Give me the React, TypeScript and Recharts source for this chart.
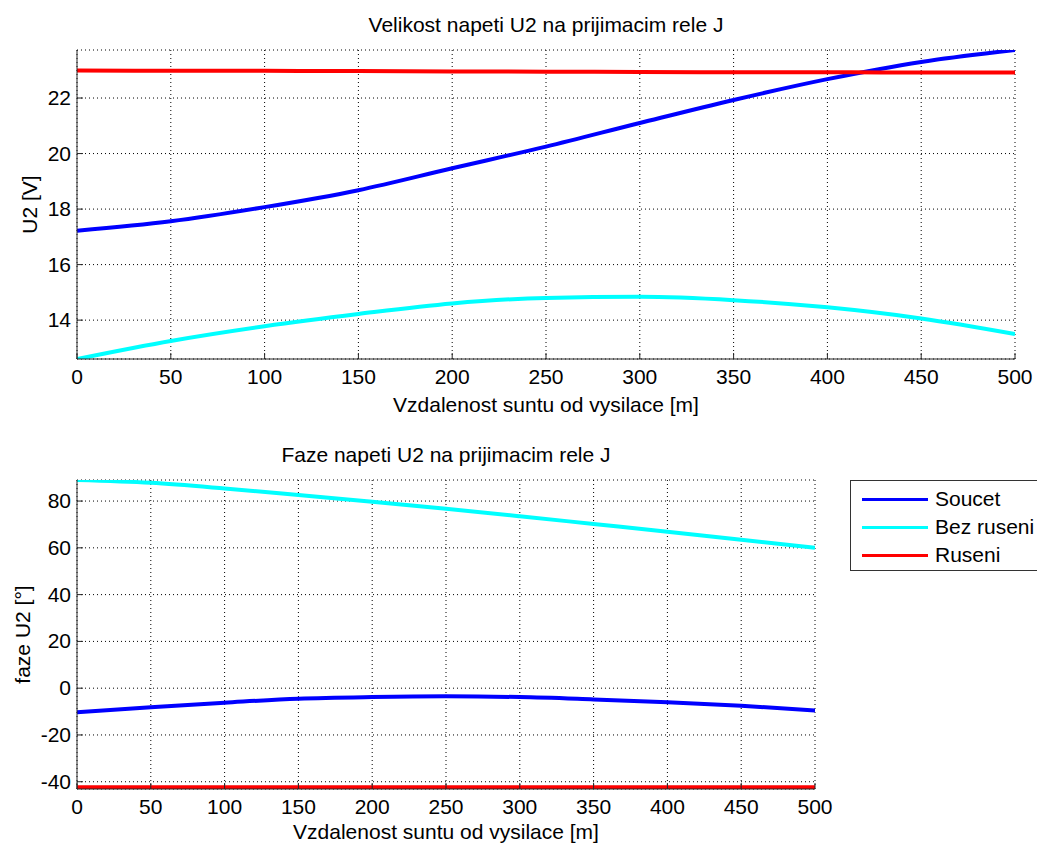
import { LineChart, Line, XAxis, YAxis, CartesianGrid, Legend, Label } from 'recharts'

// vzdalenost suntu [m]
const distance = [0, 50, 100, 150, 200, 250, 300, 350, 400, 450, 500]

// velikost U2 [V]
const u2Soucet = [17.22, 17.56, 18.07, 18.68, 19.47, 20.25, 21.1, 21.93, 22.68, 23.3, 23.73]
const u2BezRuseni = [12.6, 13.25, 13.78, 14.22, 14.6, 14.8, 14.84, 14.72, 14.46, 14.06, 13.5]
const u2Ruseni = [22.99, 22.98, 22.98, 22.97, 22.96, 22.95, 22.94, 22.93, 22.93, 22.92, 22.92]

// faze U2 [deg]
const fazeSoucet = [-10.3, -8.1, -6.2, -4.5, -3.8, -3.5, -3.8, -4.8, -6.0, -7.5, -9.5]
const fazeBezRuseni = [89, 87.8, 85.4, 82.6, 79.7, 76.7, 73.5, 70.2, 66.9, 63.5, 60]
const fazeRuseni = [-42.4, -42.4, -42.4, -42.4, -42.4, -42.4, -42.4, -42.4, -42.4, -42.4, -42.4]

const xTicks = [0, 50, 100, 150, 200, 250, 300, 350, 400, 450, 500]
const u2Ticks = [14, 16, 18, 20, 22]
const fazeTicks = [-40, -20, 0, 20, 40, 60, 80]
const legendOrder = ['Soucet', 'Bez ruseni', 'Ruseni']

const font = '"Liberation Sans", Arial, Helvetica, sans-serif'
const fontSize = 21
const axisColor = '#262626'
const MARGIN = 8

const u2Data = distance.map((d, i) => ({
  d, soucet: u2Soucet[i], bez: u2BezRuseni[i], ruseni: u2Ruseni[i]
}))
const fazeData = distance.map((d, i) => ({
  d, soucet: fazeSoucet[i], bez: fazeBezRuseni[i], ruseni: fazeRuseni[i]
}))

function XTick({ x, y, payload }: any) {
  const axisY = y - MARGIN
  return (
    <g>
      <line x1={x} x2={x} y1={axisY} y2={axisY - 6} stroke={axisColor} />
      <text x={x} y={axisY + 25} textAnchor="middle" fontSize={fontSize} fontFamily={font} fill="#000">
        {payload.value}
      </text>
    </g>
  )
}

function YTick({ x, y, payload }: any) {
  const axisX = x + MARGIN
  return (
    <g>
      <line x1={axisX} x2={axisX + 6} y1={y} y2={y} stroke={axisColor} />
      <text x={axisX - 6} y={y + 7} textAnchor="end" fontSize={fontSize} fontFamily={font} fill="#000">
        {payload.value}
      </text>
    </g>
  )
}

const xLabel = (text: string, dy: number) => (props: any) => {
  const { viewBox } = props
  const cx = viewBox.x + viewBox.width / 2
  return (
    <text x={cx} y={viewBox.y + dy} textAnchor="middle" fontSize={fontSize} fontFamily={font} fill="#000">
      {text}
    </text>
  )
}

const yLabel = (text: string, cx: number) => (props: any) => {
  const { viewBox } = props
  const cy = viewBox.y + viewBox.height / 2
  return (
    <text x={cx} y={cy} transform={`rotate(-90 ${cx} ${cy})`} textAnchor="middle"
      dominantBaseline="central" fontSize={fontSize} fontFamily={font} fill="#000">
      {text}
    </text>
  )
}

function LegendBox({ payload }: any) {
  const items = [...(payload || [])].sort(
    (a: any, b: any) => legendOrder.indexOf(a.value) - legendOrder.indexOf(b.value)
  )
  return (
    <div style={{
      borderTop: '1px solid #333', borderLeft: '1px solid #333', borderBottom: '1px solid #333',
      background: '#fff', width: 187, height: 91, paddingTop: 4, boxSizing: 'border-box',
      fontFamily: font, fontSize, color: '#000'
    }}>
      {items.map((p: any) => (
        <div key={p.value} style={{ display: 'flex', alignItems: 'center', height: 28 }}>
          <span style={{ display: 'inline-block', width: 66, height: 3, background: p.color, marginLeft: 11, marginRight: 7 }} />
          <span>{p.value}</span>
        </div>
      ))}
    </div>
  )
}

const titleStyle = (cx: number): React.CSSProperties => ({
  position: 'absolute', top: 13, left: cx - 300, width: 600, textAlign: 'center',
  fontFamily: font, fontSize, color: '#000', lineHeight: '24px'
})

export default function App() {
  return (
    <div style={{ position: 'absolute', left: 0, top: 0, width: 1037, height: 845, background: '#fff', overflow: 'hidden' }}>
      <div style={{ position: 'absolute', left: 0, top: 0, width: 1037, height: 430 }}>
        <div style={titleStyle(546)}>Velikost napeti U2 na prijimacim rele J</div>
        <LineChart width={1037} height={430} data={u2Data} margin={{ top: 50, right: 22, bottom: 31, left: 0 }}>
          <CartesianGrid stroke="#000" strokeDasharray="1 3" />
          <XAxis dataKey="d" type="number" domain={[0, 500]} ticks={xTicks} height={40}
            axisLine={{ stroke: axisColor }} tickLine={false} tickSize={0} tickMargin={MARGIN}
            tick={<XTick />} allowDataOverflow interval={0}>
            <Label content={xLabel('Vzdalenost suntu od vysilace [m]', 53)} />
          </XAxis>
          <YAxis type="number" domain={[12.6, 23.73]} ticks={u2Ticks} width={77}
            axisLine={{ stroke: axisColor }} tickLine={false} tickSize={0} tickMargin={MARGIN}
            tick={<YTick />} allowDataOverflow interval={0}>
            <Label content={yLabel('U2 [V]', 29)} />
          </YAxis>
          <Line dataKey="soucet" name="Soucet" stroke="#0000ff" strokeWidth={4} dot={false} type="monotone" isAnimationActive={false} />
          <Line dataKey="bez" name="Bez ruseni" stroke="#00ffff" strokeWidth={4} dot={false} type="monotone" isAnimationActive={false} />
          <Line dataKey="ruseni" name="Ruseni" stroke="#ff0000" strokeWidth={4} dot={false} type="monotone" isAnimationActive={false} />
        </LineChart>
      </div>
      <div style={{ position: 'absolute', left: 0, top: 430, width: 1037, height: 415 }}>
        <div style={titleStyle(446)}>Faze napeti U2 na prijimacim rele J</div>
        <LineChart width={1037} height={415} data={fazeData} margin={{ top: 50, right: 222, bottom: 16, left: 0 }}>
          <CartesianGrid stroke="#000" strokeDasharray="1 3" />
          <XAxis dataKey="d" type="number" domain={[0, 500]} ticks={xTicks} height={40}
            axisLine={{ stroke: axisColor }} tickLine={false} tickSize={0} tickMargin={MARGIN}
            tick={<XTick />} allowDataOverflow interval={0}>
            <Label content={xLabel('Vzdalenost suntu od vysilace [m]', 50)} />
          </XAxis>
          <YAxis type="number" domain={[-43.1, 89]} ticks={fazeTicks} width={77}
            axisLine={{ stroke: axisColor }} tickLine={false} tickSize={0} tickMargin={MARGIN}
            tick={<YTick />} allowDataOverflow interval={0}>
            <Label content={yLabel('faze U2 [°]', 22)} />
          </YAxis>
          <Legend layout="horizontal" verticalAlign="middle" align="center" content={<LegendBox />}
            wrapperStyle={{ left: 850, top: 50, width: 187 }} />
          <Line dataKey="soucet" name="Soucet" stroke="#0000ff" strokeWidth={4} dot={false} type="monotone" isAnimationActive={false} />
          <Line dataKey="bez" name="Bez ruseni" stroke="#00ffff" strokeWidth={4} dot={false} type="monotone" isAnimationActive={false} />
          <Line dataKey="ruseni" name="Ruseni" stroke="#ff0000" strokeWidth={4} dot={false} type="monotone" isAnimationActive={false} />
        </LineChart>
      </div>
    </div>
  )
}
